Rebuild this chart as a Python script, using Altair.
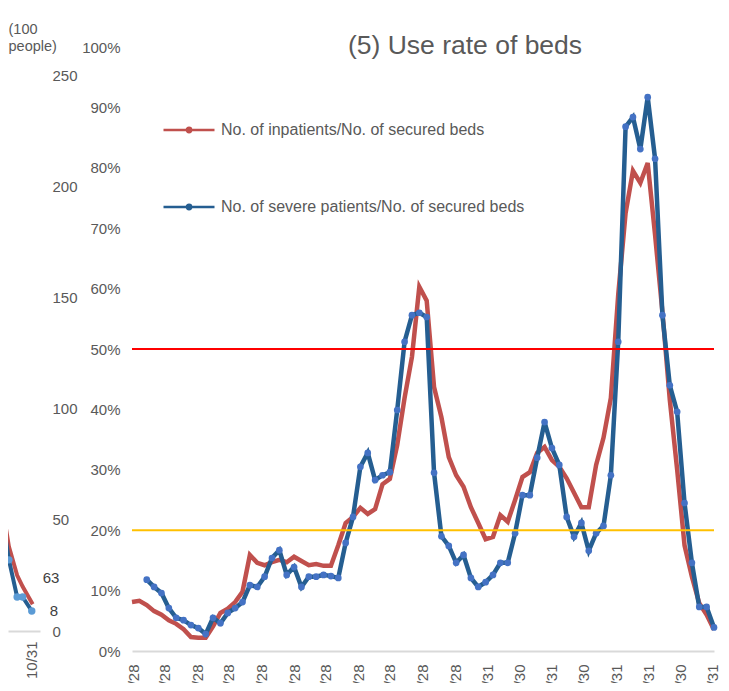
import altair as alt
import pandas as pd

# ---------------- data ----------------
week_dates = pd.date_range("2020-04-27", periods=80, freq="7D").strftime("%Y-%m-%d").tolist()

inpatient_rate = [
    8.1, 8.3, 7.6, 6.6, 6.0, 5.1, 4.5, 3.6, 2.3, 2.2,
    2.2, 4.1, 6.3, 7.0, 8.1, 9.8, 15.9, 14.6, 14.2, 14.7,
    15.1, 14.7, 15.6, 14.9, 14.2, 14.4, 14.1, 14.1, 17.5, 21.2,
    22.2, 23.7, 22.7, 23.5, 27.6, 28.5, 34.1, 41.9, 48.7, 60.3,
    58.0, 43.7, 38.7, 32.1, 29.1, 27.2, 23.8, 21.2, 18.5, 18.9,
    22.5, 21.4, 25.0, 28.8, 29.6, 32.8, 33.8, 31.6, 30.5, 28.6,
    26.2, 23.8, 23.8, 30.8, 35.3, 41.9, 59.0, 72.5, 79.5, 77.5,
    80.8, 68.9, 56.1, 41.6, 30.0, 17.5, 12.3, 7.9, 6.0, 3.5,
]
severe_rate = [
    None, None, 11.8, 10.6, 9.6, 7.1, 5.5, 5.1, 4.3, 3.8,
    2.8, 5.5, 4.6, 6.3, 7.1, 8.1, 10.9, 10.6, 12.3, 15.4,
    16.7, 12.6, 13.9, 10.6, 12.3, 12.3, 12.6, 12.4, 12.1, 17.9,
    22.2, 30.5, 32.8, 28.3, 29.1, 29.6, 39.9, 51.2, 55.6, 56.0,
    55.3, 29.5, 19.0, 17.4, 14.6, 15.9, 12.1, 10.6, 11.4, 12.6,
    14.6, 14.6, 19.5, 25.8, 25.8, 32.0, 37.9, 33.6, 30.8, 22.2,
    18.9, 21.2, 16.6, 19.5, 20.7, 29.1, 51.2, 86.8, 88.4, 83.1,
    91.7, 81.5, 55.6, 44.0, 39.6, 24.5, 14.6, 7.3, 7.3, 3.9,
]
series_names = ["No. of inpatients/No. of secured beds",
                "No. of severe patients/No. of secured beds"]
end_labels = ["3.5%", "3.9%"]

x_tick_dates = ["2020-04-28", "2020-05-28", "2020-06-28", "2020-07-28", "2020-08-28",
                "2020-09-28", "2020-10-28", "2020-11-28", "2020-12-28", "2021-01-28",
                "2021-02-28", "2021-03-31", "2021-04-30", "2021-05-31", "2021-06-30",
                "2021-07-31", "2021-08-31", "2021-09-30", "2021-10-31"]

threshold_values = [50, 20]
threshold_colors = ["#FF0000", "#FFC000"]

# left (cut-off) panel
left_dates = ["2021-09-20", "2021-09-28", "2021-10-06", "2021-10-15", "2021-10-21", "2021-10-31"]
left_blue = [80, 53, 32, 15.3, 15.3, 9]
left_red_dates = ["2021-09-20", "2021-09-28", "2021-10-06", "2021-10-15", "2021-10-21", "2021-11-01"]
left_red = [86, 58, 38, 25, 20, 12]
left_labels = ["63", "8"]

RED = "#C0504D"
BLUE_LINE = "#255E91"
BLUE_DOT = "#4472C4"
GREY_TXT = "#595959"
SANS = "Liberation Sans, Arial, sans-serif"
AX_SIZE = 15

LABEL_EXPR = "utcFormat(datum.value, '%-m/%-d')"


def dt(s):
    y, m, d = (int(v) for v in s.split("-"))
    return alt.DateTime(year=y, month=m, date=d, utc=True)


# ---------------- main panel ----------------
df_red = pd.DataFrame({"date": week_dates, "value": inpatient_rate, "series": series_names[0]})
df_blue = pd.DataFrame({"date": week_dates, "value": severe_rate, "series": series_names[1]}).dropna()
df_rules = pd.DataFrame({"value": threshold_values, "color": threshold_colors})
df_end = pd.DataFrame({
    "date": [week_dates[-1], week_dates[-1]],
    "value": [inpatient_rate[-1], severe_rate[-1]],
    "label": end_labels,
})

x_main = alt.X(
    "date:T",
    scale=alt.Scale(type="utc", domain=[dt(week_dates[0]), dt(week_dates[-1])], nice=False),
    axis=alt.Axis(
        values=[dt(s) for s in x_tick_dates], labelExpr=LABEL_EXPR,
        labelAngle=-90, labelFont=SANS, labelFontSize=AX_SIZE, labelColor=GREY_TXT,
        labelPadding=13, ticks=False, grid=False, domainColor="#D9D9D9", domainWidth=2,
        title=None,
    ),
)
y_main = alt.Y(
    "value:Q",
    scale=alt.Scale(domain=[0, 100], nice=False),
    axis=alt.Axis(
        values=list(range(0, 101, 10)), labelExpr="datum.value + '%'",
        labelFont=SANS, labelFontSize=AX_SIZE, labelColor=GREY_TXT, labelPadding=12,
        ticks=False, domain=False, grid=False, title=None,
    ),
)

color_enc = alt.Color(
    "series:N",
    scale=alt.Scale(domain=series_names, range=[RED, BLUE_LINE]),
    legend=alt.Legend(
        title=None, orient="none", legendX=154, legendY=56,
        symbolType="M-1,0L1,0M0.085,0A0.085,0.085,0,1,1,-0.085,0A0.085,0.085,0,1,1,0.085,0Z",
        symbolSize=2601, symbolStrokeWidth=2.5,
        labelFont=SANS, labelFontSize=16, labelColor=GREY_TXT, labelOffset=5,
        rowPadding=42, padding=0, labelLimit=450,
    ),
)

red_line = alt.Chart(df_red).mark_line(strokeWidth=4.5).encode(x=x_main, y=y_main, color=color_enc)
blue_line = alt.Chart(df_blue).mark_line(strokeWidth=4.5).encode(x=x_main, y=y_main, color=color_enc)
blue_pts = alt.Chart(df_blue).mark_circle(size=45, color=BLUE_DOT, opacity=1).encode(x=x_main, y=y_main)
rules = alt.Chart(df_rules).mark_rule(strokeWidth=2).encode(
    y=alt.Y("value:Q"), color=alt.Color("color:N", scale=None, legend=None)
)
end_blue = alt.Chart(df_end.iloc[[1]]).mark_text(
    align="left", baseline="middle", dx=11, dy=-22, font=SANS, fontSize=AX_SIZE, color="#404040"
).encode(x=x_main, y=y_main, text="label:N")
end_red = alt.Chart(df_end.iloc[[0]]).mark_text(
    align="left", baseline="middle", dx=11, dy=5, font=SANS, fontSize=AX_SIZE, color="#404040"
).encode(x=x_main, y=y_main, text="label:N")

main = alt.layer(red_line, blue_line, blue_pts, rules, end_blue, end_red).properties(
    width=582, height=604,
    title=alt.TitleParams(
        "(5) Use rate of beds", font=SANS, fontSize=26.5, fontWeight="normal",
        color=GREY_TXT, anchor="middle", frame="group", baseline="alphabetic",
        offset=-40, dx=42,
    ),
)

# ---------------- left (cut-off) panel ----------------
df_lb = pd.DataFrame({"date": left_dates, "value": left_blue})
df_lr = pd.DataFrame({"date": left_red_dates, "value": left_red})
df_ll = pd.DataFrame({"date": [left_red_dates[-1], left_dates[-1]],
                      "value": [left_red[-1], left_blue[-1]], "label": left_labels})

x_left = alt.X(
    "date:T",
    scale=alt.Scale(type="utc", domain=[dt("2021-10-05"), dt("2021-11-09")], nice=False),
    axis=alt.Axis(
        values=[dt("2021-09-30"), dt("2021-10-31")], labelExpr=LABEL_EXPR,
        labelAngle=-90, labelFont=SANS, labelFontSize=AX_SIZE, labelColor=GREY_TXT,
        labelPadding=10, ticks=False, grid=False, domainColor="#D9D9D9", domainWidth=2,
        title=None,
    ),
)
y_left = alt.Y(
    "value:Q",
    scale=alt.Scale(domain=[0, 262.6], nice=False),
    axis=alt.Axis(
        orient="right", values=[0, 50, 100, 150, 200, 250],
        labelFont=SANS, labelFontSize=AX_SIZE, labelColor=GREY_TXT, labelAlign="left",
        labelPadding=12, ticks=False, domain=False, grid=False,
        title=["(100", "people)"], titleAngle=0, titleAlign="left", titleBaseline="top",
        titleX=-32, titleY=-25, titleFont=SANS, titleFontSize=14.5,
        titleFontWeight="normal", titleColor=GREY_TXT, titleLineHeight=17,
    ),
)

l_red = alt.Chart(df_lr).mark_line(strokeWidth=4, color=RED, clip=True).encode(x=x_left, y=y_left)
l_blue = alt.Chart(df_lb).mark_line(strokeWidth=4, color=BLUE_LINE, clip=True).encode(x=x_left, y=y_left)
l_pts = alt.Chart(df_lb).mark_circle(size=55, color="#5B9BD5", opacity=1, clip=True).encode(x=x_left, y=y_left)
l_t63 = alt.Chart(df_ll.iloc[[0]]).mark_text(
    align="left", baseline="middle", dx=10, dy=-26, font=SANS, fontSize=AX_SIZE, color="#404040"
).encode(x=x_left, y=y_left, text="label:N")
l_t8 = alt.Chart(df_ll.iloc[[1]]).mark_text(
    align="left", baseline="middle", dx=18, dy=0, font=SANS, fontSize=AX_SIZE, color="#404040"
).encode(x=x_left, y=y_left, text="label:N")

left = alt.layer(l_red, l_blue, l_pts, l_t63, l_t8).properties(width=32, height=584)

TOP = 39
SVG_W = 713
SVG_H = 675
chart = alt.hconcat(left, main, spacing=3).properties(
    autosize=alt.AutoSizeParams(type="none"),
    padding={"left": 0, "top": TOP, "right": SVG_W, "bottom": SVG_H - TOP},
    background="white",
).configure_view(stroke=None)

chart.save("out.html", embed_options={"renderer": "svg", "actions": False})
